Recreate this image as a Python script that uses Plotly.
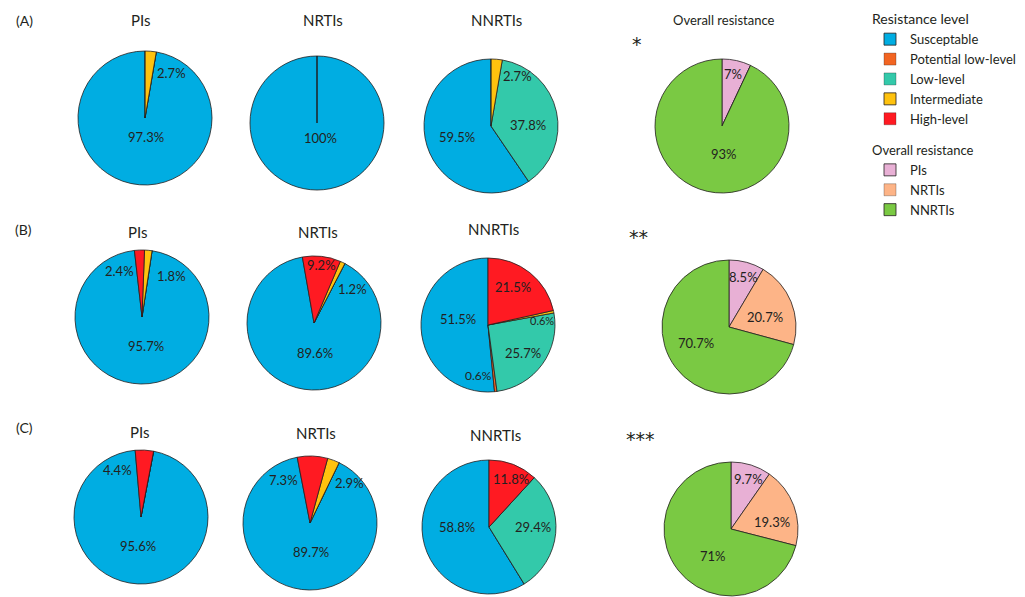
import plotly.graph_objects as go

W, H = 1025, 597
FONT = "Lato"
INK = "#231F20"

# ---------------- data ----------------
levels = ["Susceptable", "Potential low-level", "Low-level", "Intermediate", "High-level"]
level_colors = ["#00ADE2", "#F26522", "#33C9AA", "#FFC20E", "#FF1A22"]

drug_classes = ["PIs", "NRTIs", "NNRTIs"]
overall_colors = ["#E8B0D5", "#FDB487", "#7AC943"]

row_tags = ["(A)", "(B)", "(C)"]
row_stars = ["*", "**", "***"]
overall_title = "Overall resistance"

# percentages, in legend order: Susceptable, Potential low-level, Low-level, Intermediate, High-level
A_PIs = [97.3, 0, 0, 2.7, 0]
A_NRTIs = [100, 0, 0, 0, 0]
A_NNRTIs = [59.5, 0, 37.8, 2.7, 0]
B_PIs = [95.7, 0, 0, 1.8, 2.4]
B_NRTIs = [89.6, 0, 0, 1.2, 9.2]
B_NNRTIs = [51.5, 0.6, 25.7, 0.6, 21.5]
C_PIs = [95.6, 0, 0, 0, 4.4]
C_NRTIs = [89.7, 0, 0, 2.9, 7.3]
C_NNRTIs = [58.8, 0, 29.4, 0, 11.8]

# overall resistance share: PIs, NRTIs, NNRTIs
A_overall = [7, 0, 93]
B_overall = [8.5, 20.7, 70.7]
C_overall = [9.7, 19.3, 71]

level_data = [[A_PIs, A_NRTIs, A_NNRTIs], [B_PIs, B_NRTIs, B_NNRTIs], [C_PIs, C_NRTIs, C_NNRTIs]]
overall_data = [A_overall, B_overall, C_overall]

# ---------------- layout (pixels) ----------------
# pie centres / radius per row: PIs, NRTIs, NNRTIs, Overall
centres = [
    [(145, 118), (317, 123), (491, 126), (722, 126)],
    [(142, 317), (314, 323), (488, 325), (729, 327)],
    [(141, 517), (310, 523), (489, 527), (731, 529)],
]
radius = 67
# angle (deg, clockwise from 12 o'clock) where the high-level slice starts
start_angles = [[0, 0, 0], [-6.5, -10, 0], [-5, -11, 0]]

# label offsets from pie centre (px), aligned with values (None = no label)
level_label_pos = [
    [[(1, 19), None, None, (26, -45), None],
     [(3, 15), None, None, None, None],
     [(-34, 11), None, (37, -1), (26, -50), None]],
    [[(4, 29), None, None, (29, -41), (-23, -46)],
     [(1, 30), None, None, (38, -34), (7, -58)],
     [(-30, -6), (-10, 50), (35, 28), (54, -5), (25, -38)]],
    [[(-3, 29), None, None, None, (-24, -47)],
     [(1, 29), None, None, (39, -40), (-27, -43)],
     [(-32, 0), None, (44, 0), None, (22, -48)]],
]
overall_label_pos = [
    [(11, -52), None, (2, 28)],
    [(14, -50), (36, -10), (-33, 16)],
    [(17, -50), (41, -7), (-18, 27)],
]
label_size = {(1, 2, 3): 11, (1, 2, 1): 12}  # tiny 0.6% labels

title_pos = [
    [(140, 20), (323, 20), (496, 20)],
    [(137, 232), (318, 232), (493, 229)],
    [(139, 432), (316, 433), (495, 435)],
]
overall_title_pos = (723, 20)
tag_pos = [(24, 20), (23, 230), (24, 427)]
star_pos = [(637, 44), (638, 237), (640, 439)]

EDGE_W = 0.8
ZERO_EDGE_W = 0.3


def px(x, y):
    return x / W, 1 - y / H


def domain(c, r):
    cx, cy = c
    return dict(x=[(cx - r) / W, (cx + r) / W], y=[1 - (cy + r) / H, 1 - (cy - r) / H])


def fmt(v):
    return f"{v:g}%"


def edge_widths(vals):
    return [EDGE_W if v else ZERO_EDGE_W for v in vals]


fig = go.Figure()
annotations = []


def add_text(x, y, text, size=13, family=FONT, **kw):
    ax, ay = px(x, y)
    annotations.append(dict(x=ax, y=ay, xref="paper", yref="paper", text=text,
                            showarrow=False, xanchor="center", yanchor="middle",
                            font=dict(family=family, size=size, color=INK), **kw))


for ri in range(3):
    for ci in range(3):
        vals = level_data[ri][ci]
        total = sum(vals)
        # counterclockwise draw: first slice (Susceptable) sits clockwise of `rotation`,
        # so high-level starts at rotation + susceptable angle
        rot = start_angles[ri][ci] - 360 * vals[0] / total
        fig.add_trace(go.Pie(
            labels=levels, values=vals, sort=False, direction="counterclockwise",
            rotation=rot, domain=domain(centres[ri][ci], radius),
            marker=dict(colors=level_colors, line=dict(color=INK, width=edge_widths(vals))),
            textinfo="none", hoverinfo="label+percent", legend="legend",
            showlegend=True,
        ))
        cx, cy = centres[ri][ci]
        for k, v in enumerate(vals):
            p = level_label_pos[ri][ci][k]
            if v and p:
                add_text(cx + p[0], cy + p[1], fmt(v), size=label_size.get((ri, ci, k), 13))
        tx, ty = title_pos[ri][ci]
        add_text(tx, ty, drug_classes[ci], size=15)

    vals = overall_data[ri]
    fig.add_trace(go.Pie(
        labels=drug_classes, values=vals, sort=False, direction="clockwise",
        rotation=0, domain=domain(centres[ri][3], radius),
        marker=dict(colors=overall_colors, line=dict(color=INK, width=edge_widths(vals))),
        textinfo="none", hoverinfo="label+percent", legend="legend2",
        showlegend=True,
    ))
    cx, cy = centres[ri][3]
    for k, v in enumerate(vals):
        p = overall_label_pos[ri][k]
        if v and p:
            add_text(cx + p[0], cy + p[1], fmt(v), size=13)
    add_text(*tag_pos[ri], row_tags[ri], size=14)
    add_text(*star_pos[ri], row_stars[ri], size=19, family="DejaVu Sans")

add_text(*overall_title_pos, overall_title, size=13)

legend_common = dict(
    xanchor="left", yanchor="top", bgcolor="rgba(0,0,0,0)",
    font=dict(family=FONT, size=13, color=INK), itemwidth=30,
    tracegroupgap=0,
)
fig.update_layout(
    width=W, height=H, margin=dict(l=0, r=0, t=0, b=0),
    paper_bgcolor="white", plot_bgcolor="white",
    font=dict(family=FONT, color=INK),
    annotations=annotations,
    showlegend=True,
    legend=dict(x=870 / W, y=1 - 6 / H, title=dict(text="Resistance level", font=dict(size=14)),
                **legend_common),
    legend2=dict(x=870 / W, y=1 - 138 / H, title=dict(text="Overall resistance", font=dict(size=13)),
                 **legend_common),
)

fig.write_html("out.html")
